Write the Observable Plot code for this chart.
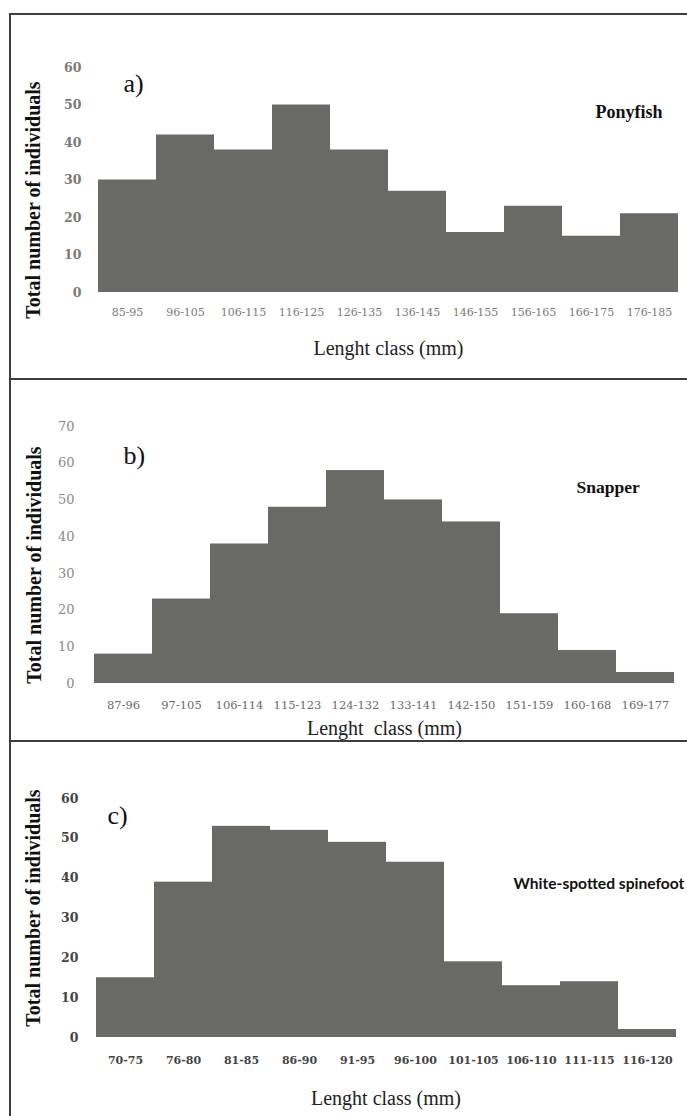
<!DOCTYPE html>
<html>
<head>
<meta charset="utf-8">
<script src="https://cdn.jsdelivr.net/npm/d3@7"></script>
<script src="https://cdn.jsdelivr.net/npm/@observablehq/plot@0.6"></script>
<style>
  html, body { margin: 0; padding: 0; background: #fff; overflow: hidden; }
  #page { position: relative; width: 687px; height: 1116px; overflow: hidden; }
  .panel { position: absolute; left: 0; }
  .rule { position: absolute; background: #3d3d3d; z-index: 5; }
  #frame { position: absolute; left: 9px; top: 13px; width: 720px; height: 1130px; border: 2px solid #3d3d3d; z-index: 5; box-sizing: border-box; }
</style>
</head>
<body>
<div id="page">
  <div id="frame"></div>
  <div class="rule" style="left:9px; top:378px; width:720px; height:2px;"></div>
  <div class="rule" style="left:9px; top:740px; width:720px; height:2px;"></div>
  <div class="panel" id="pa" style="top:15px;"></div>
  <div class="panel" id="pb" style="top:381px;"></div>
  <div class="panel" id="pc" style="top:743px;"></div>
</div>
<script>
// ---- data ----
const classesA = ["85-95","96-105","106-115","116-125","126-135","136-145","146-155","156-165","166-175","176-185"];
const countsA  = [30, 42, 38, 50, 38, 27, 16, 23, 15, 21];
const ticksA   = [0, 10, 20, 30, 40, 50, 60];

const classesB = ["87-96","97-105","106-114","115-123","124-132","133-141","142-150","151-159","160-168","169-177"];
const countsB  = [8, 23, 38, 48, 58, 50, 44, 19, 9, 3];
const ticksB   = [0, 10, 20, 30, 40, 50, 60, 70];

const classesC = ["70-75","76-80","81-85","86-90","91-95","96-100","101-105","106-110","111-115","116-120"];
const countsC  = [15, 39, 53, 52, 49, 44, 19, 13, 14, 2];
const ticksC   = [0, 10, 20, 30, 40, 50, 60];

const yTitle = "Total number of individuals";
const xTitleA = "Lenght class (mm)";
const xTitleB = "Lenght\u00a0 class (mm)";
const xTitleC = "Lenght class (mm)";

const BAR = "#696966";
const SERIF = "Liberation Serif, serif";
const TICKFONT = "DejaVu Serif, serif";

function panel(cfg) {
  const data = cfg.classes.map((c, i) => ({cls: c, n: cfg.counts[i]}));
  const hasAxisMarks = typeof Plot.axisX === "function";
  const marks = [
    Plot.barY(data, {x: "cls", y: "n", fill: BAR}),
    Plot.text([yTitle], {text: d => d, frameAnchor: "left", rotate: -90, textAnchor: "middle", lineAnchor: "middle",
      dx: cfg.yTitleDx, dy: cfg.yTitleDy, fontSize: 20, fontWeight: "bold", fontFamily: SERIF, fill: "#111"}),
    Plot.text([cfg.letter], {text: d => d, frameAnchor: "top-left", textAnchor: "start", lineAnchor: "middle",
      dx: cfg.letterDx, dy: cfg.letterDy, fontSize: 26, fontWeight: "normal", fontFamily: SERIF, fill: "#111"}),
    Plot.text([cfg.species], {text: d => d, frameAnchor: "top-left", textAnchor: "start", lineAnchor: "middle",
      dx: cfg.speciesDx, dy: cfg.speciesDy, fontSize: cfg.speciesSize, fontWeight: "bold",
      fontFamily: cfg.speciesFont, fill: "#111"}),
    Plot.text([cfg.xTitle], {text: d => d, frameAnchor: "bottom", textAnchor: "middle", lineAnchor: "middle",
      dy: cfg.xTitleDy, fontSize: 20, fontWeight: "normal", fontFamily: SERIF, fill: "#222"})
  ];
  if (hasAxisMarks) {
    marks.push(
      Plot.axisX({tickSize: 0, tickPadding: cfg.xTickPad, label: null, fontSize: cfg.xTickSize,
        fontWeight: cfg.xTickWeight, fontFamily: TICKFONT, fill: cfg.xTickColor}),
      Plot.axisY({ticks: cfg.ticks, tickSize: 0, tickPadding: cfg.yTickPad, label: null, fontSize: cfg.yTickSize,
        fontWeight: cfg.yTickWeight, fontFamily: TICKFONT, fill: cfg.yTickColor})
    );
  }
  return Plot.plot({
    width: 687,
    height: cfg.height,
    marginTop: cfg.mt, marginBottom: cfg.mb, marginLeft: cfg.ml, marginRight: cfg.mr,
    style: {background: "transparent", overflow: "visible", fontFamily: TICKFONT, fontSize: cfg.xTickSize + "px",
      color: cfg.xTickColor},
    x: {domain: cfg.classes, padding: 0, label: null, tickSize: 0, tickPadding: cfg.xTickPad},
    y: {domain: [0, cfg.ymax], ticks: cfg.ticks, label: null, tickSize: 0, tickPadding: cfg.yTickPad},
    marks
  });
}

document.getElementById("pa").appendChild(panel({
  classes: classesA, counts: countsA, ticks: ticksA, ymax: 60,
  height: 362, mt: 52, mb: 85, ml: 97, mr: 8,
  yTitleDx: -64, yTitleDy: 20,
  letter: "a)", letterDx: 26, letterDy: 16,
  species: "Ponyfish", speciesDx: 498, speciesDy: 45, speciesSize: 18, speciesFont: SERIF,
  xTitle: xTitleA, xTitleDy: 56,
  xTickPad: 16, xTickSize: 11, xTickWeight: "normal", xTickColor: "#7a7a7a",
  yTickPad: 16, yTickSize: 12.5, yTickWeight: "bold", yTickColor: "#7a7a7a"
}));

document.getElementById("pb").appendChild(panel({
  classes: classesB, counts: countsB, ticks: ticksB, ymax: 70,
  height: 360, mt: 45, mb: 58, ml: 90, mr: 9,
  yTitleDx: -56, yTitleDy: 10,
  letter: "b)", letterDx: 33, letterDy: 29,
  species: "Snapper", speciesDx: 486, speciesDy: 61, speciesSize: 17.5, speciesFont: SERIF,
  xTitle: xTitleB, xTitleDy: 45,
  xTickPad: 17, xTickSize: 11.5, xTickWeight: "normal", xTickColor: "#6a6a6a",
  yTickPad: 16, yTickSize: 13, yTickWeight: "normal", yTickColor: "#8a8a8a"
}));

document.getElementById("pc").appendChild(panel({
  classes: classesC, counts: countsC, ticks: ticksC, ymax: 60,
  height: 373, mt: 55, mb: 79, ml: 93, mr: 9,
  yTitleDx: -60, yTitleDy: -10,
  letter: "c)", letterDx: 14, letterDy: 17,
  species: "White-spotted spinefoot", speciesDx: 420, speciesDy: 85, speciesSize: 15.6, speciesFont: "Lato, Open Sans, sans-serif",
  xTitle: xTitleC, xTitleDy: 61,
  xTickPad: 19, xTickSize: 11, xTickWeight: "bold", xTickColor: "#444",
  yTickPad: 15, yTickSize: 12.5, yTickWeight: "bold", yTickColor: "#444"
}));
</script>
</body>
</html>
